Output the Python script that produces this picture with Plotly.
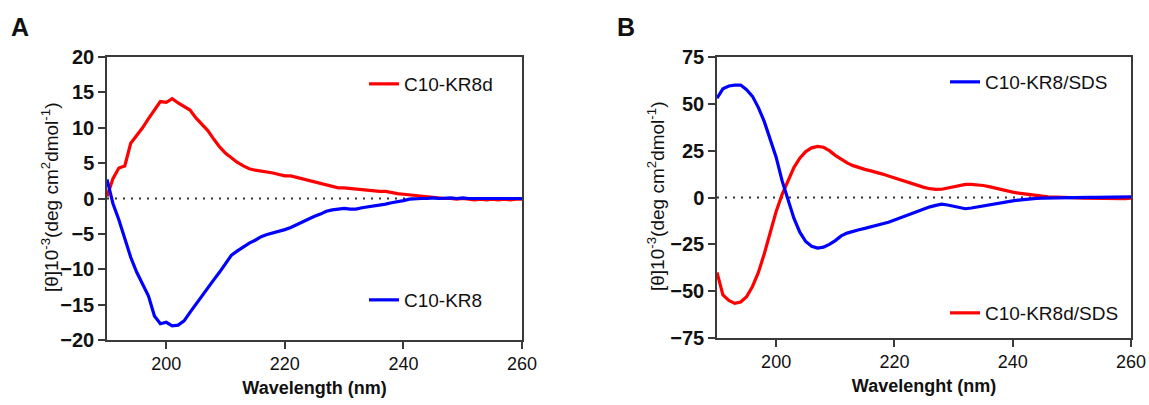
import plotly.graph_objects as go

# ---------------- data ----------------
wl = list(range(190, 261))

kr8d = [0.3, 2.8, 4.3, 4.6, 7.8, 8.9, 10.0, 11.3, 12.6, 13.7,
        13.6, 14.1, 13.5, 13.0, 12.5, 11.4, 10.5, 9.6, 8.4, 7.3,
        6.4, 5.7, 5.1, 4.6, 4.2, 4.0, 3.9, 3.7, 3.6, 3.4,
        3.2, 3.2, 3.0, 2.8, 2.5, 2.3, 2.1, 1.9, 1.7, 1.5,
        1.5, 1.4, 1.3, 1.3, 1.2, 1.1, 1.0, 1.0, 0.8, 0.7,
        0.6, 0.5, 0.4, 0.3, 0.2, 0.1, 0.1, 0.0, 0.0, -0.1,
        0.0, -0.1, -0.2, -0.1, -0.2, -0.1, -0.2, -0.1, -0.2, -0.1,
        -0.1]

kr8 = [2.7, -0.7, -3.0, -5.8, -8.3, -10.4, -12.0, -13.8, -16.6, -17.7,
       -17.5, -18.0, -17.9, -17.3, -16.1, -14.9, -13.7, -12.6, -11.5, -10.4,
       -9.1, -8.0, -7.4, -6.8, -6.3, -5.9, -5.4, -5.1, -4.9, -4.7,
       -4.4, -4.1, -3.7, -3.2, -2.8, -2.5, -2.2, -1.8, -1.6, -1.5,
       -1.4, -1.5, -1.5, -1.3, -1.2, -1.0, -0.9, -0.8, -0.6, -0.5,
       -0.3, -0.1, 0.0, 0.0, 0.0, 0.1, 0.0, 0.1, 0.1, 0.0,
       0.1, 0.0, 0.0, 0.1, 0.0, 0.0, 0.0, 0.0, 0.0, 0.0,
       0.0]

kr8_sds = [53, 58, 59.5, 60, 60, 57.5, 54, 48, 40.5, 31.3,
           21.5, 9, -1.5, -11, -18.5, -23.5, -26, -27, -26.5, -25,
           -23, -20.5, -19, -18, -17.2, -16.5, -15.8, -15, -14, -13.2,
           -12, -11, -9.8, -8.5, -7.3, -6.2, -5, -4.2, -3.6, -4.0,
           -4.8, -5.6, -6.0, -5.6, -5.0, -4.5, -4.0, -3.4, -2.8, -2.3,
           -1.8, -1.4, -1.0, -0.7, -0.5, -0.3, -0.2, -0.1, 0, 0,
           0, 0, 0.1, 0.1, 0.1, 0.1, 0.2, 0.2, 0.2, 0.2,
           0.3]

kr8d_sds = [-40, -52, -55, -56.5, -55.8, -53, -47.5, -40, -30, -18.5,
            -7.5, 1.5, 9, 16, 21, 24.5, 26.5, 27.3, 26.8, 25,
            22.5, 20.5, 18.5, 17, 15.8, 15, 14.2, 13.5, 12.5, 11.5,
            10.5, 9.4, 8.3, 7.2, 6.2, 5.4, 4.7, 4.3, 4.4, 5.0,
            5.8, 6.5, 7.0, 7.0, 6.8, 6.4, 5.8, 5.0, 4.2, 3.5,
            2.9, 2.3, 1.8, 1.3, 1.0, 0.7, 0.4, 0.2, 0.1, 0.0,
            -0.1, -0.2, -0.3, -0.4, -0.5, -0.6, -0.7, -0.8, -0.8, -0.6,
            -0.3]

yticks_a = [20, 15, 10, 5, 0, -5, -10, -15, -20]
yticks_b = [75, 50, 25, 0, -25, -50, -75]
xticks = [200, 220, 240, 260]

# ---------------- style ----------------
RED = "#ff0000"
BLUE = "#0000ff"
AXC = "#3a3a3a"
TXT = "#111111"
FONT = "Arial, Liberation Sans, sans-serif"
W, H = 1149, 405

fig = go.Figure()
fig.add_trace(go.Scatter(x=wl, y=kr8d, mode="lines", name="C10-KR8d",
                         line=dict(color=RED, width=3.2), xaxis="x", yaxis="y",
                         legend="legend", showlegend=True))
fig.add_trace(go.Scatter(x=wl, y=kr8, mode="lines", name="C10-KR8",
                         line=dict(color=BLUE, width=3.2), xaxis="x", yaxis="y",
                         legend="legend2", showlegend=True))
fig.add_trace(go.Scatter(x=wl, y=kr8d_sds, mode="lines", name="C10-KR8d/SDS",
                         line=dict(color=RED, width=3.2), xaxis="x2", yaxis="y2",
                         legend="legend4", showlegend=True))
fig.add_trace(go.Scatter(x=wl, y=kr8_sds, mode="lines", name="C10-KR8/SDS",
                         line=dict(color=BLUE, width=3.2), xaxis="x2", yaxis="y2",
                         legend="legend3", showlegend=True))

def px_x(p):
    return p / W

def px_y(p):
    return 1 - p / H

ytitle = "[θ]10<sup>-3</sup>(deg cm<sup>2</sup>dmol<sup>-1</sup>)"

common_x = dict(range=[190, 260], tickvals=xticks, ticks="outside", ticklen=7,
                tickwidth=1.5, tickcolor=AXC, showline=True, linecolor=AXC,
                linewidth=1.5, mirror=True, showgrid=False, zeroline=False,
                tickfont=dict(family=FONT, size=18, color=TXT),
                automargin=False)
common_y = dict(ticks="outside", ticklen=7, tickwidth=1.5, tickcolor=AXC,
                showline=True, linecolor=AXC, linewidth=1.5, mirror=True,
                showgrid=False, zeroline=False,
                tickfont=dict(family=FONT, size=20, color=TXT, weight="bold"),
                automargin=False)

leg_font = dict(family=FONT, size=19, color=TXT)

fig.update_layout(
    width=W, height=H,
    margin=dict(l=0, r=0, t=0, b=0),
    paper_bgcolor="white", plot_bgcolor="white",
    showlegend=True,
    xaxis=dict(common_x, domain=[px_x(107), px_x(522)], anchor="y",
               title=dict(text="Wavelength (nm)", standoff=8,
                          font=dict(family=FONT, size=18, color=TXT, weight="bold"))),
    yaxis=dict(common_y, domain=[px_y(340), px_y(57)], anchor="x",
               range=[-20, 20], tickvals=yticks_a),
    xaxis2=dict(common_x, domain=[px_x(717), px_x(1131)], anchor="y2",
                title=dict(text="Wavelenght (nm)", standoff=8,
                           font=dict(family=FONT, size=18, color=TXT, weight="bold"))),
    yaxis2=dict(common_y, domain=[px_y(338), px_y(57)], anchor="x2",
                range=[-75, 75], tickvals=yticks_b),
    legend=dict(x=px_x(364), y=px_y(84), xanchor="left", yanchor="middle",
                bgcolor="rgba(0,0,0,0)", font=leg_font),
    legend2=dict(x=px_x(364), y=px_y(300), xanchor="left", yanchor="middle",
                 bgcolor="rgba(0,0,0,0)", font=leg_font),
    legend3=dict(x=px_x(945), y=px_y(82), xanchor="left", yanchor="middle",
                 bgcolor="rgba(0,0,0,0)", font=leg_font),
    legend4=dict(x=px_x(945), y=px_y(313), xanchor="left", yanchor="middle",
                 bgcolor="rgba(0,0,0,0)", font=leg_font),
)

# y-axis titles (rotated)
for xc, yc in ((50, 198), (656, 197)):
    fig.add_annotation(text=ytitle, x=px_x(xc), y=px_y(yc), xref="paper", yref="paper",
                       xanchor="center", yanchor="middle", textangle=-90, showarrow=False,
                       font=dict(family=FONT, size=19, color=TXT))

# dotted zero lines
for xr, yr in (("x", "y"), ("x2", "y2")):
    fig.add_shape(type="line", xref=xr, yref=yr, x0=190, x1=260, y0=0, y1=0,
                  line=dict(color="#333333", width=2, dash="2px,6px"), layer="below")

# panel letters
fig.add_annotation(text="A", x=px_x(9), y=px_y(27), xref="paper", yref="paper",
                   xanchor="left", yanchor="middle", showarrow=False,
                   font=dict(family=FONT, size=25, color=TXT, weight="bold"))
fig.add_annotation(text="B", x=px_x(615), y=px_y(27), xref="paper", yref="paper",
                   xanchor="left", yanchor="middle", showarrow=False,
                   font=dict(family=FONT, size=25, color=TXT, weight="bold"))

fig.write_html("out.html", config={"displayModeBar": False},
               post_script="document.body.style.margin='0';document.body.style.overflow='hidden';")
